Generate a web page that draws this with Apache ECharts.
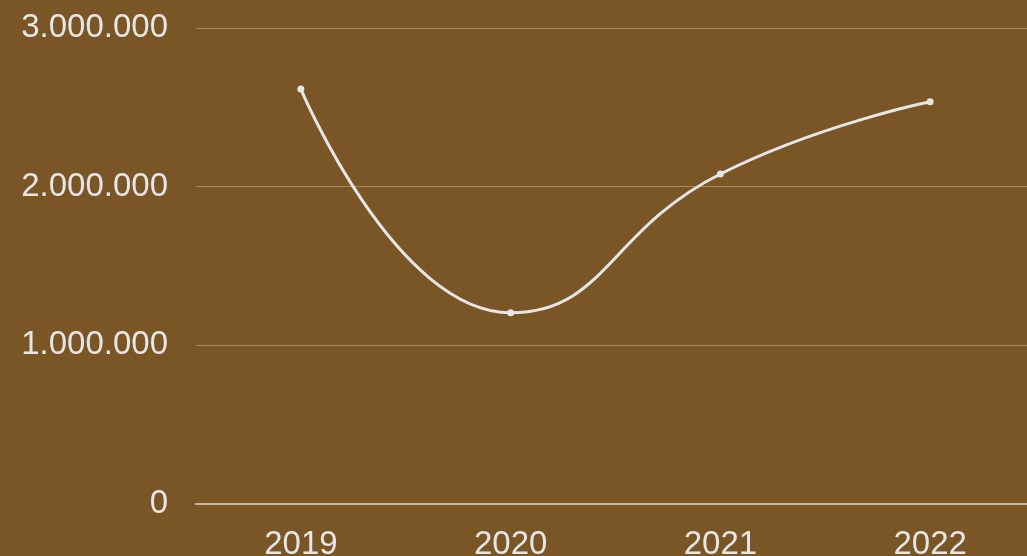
<!DOCTYPE html>
<html>
<head>
<meta charset="utf-8">
<script src="https://cdn.jsdelivr.net/npm/echarts@6/dist/echarts.min.js"></script>
<style>
  html, body { margin: 0; padding: 0; background: #7a5526; }
  #chart { width: 1027px; height: 556px; }
</style>
</head>
<body>
<div id="chart"></div>
<script>
// 年份与数值
const years = ['2019', '2020', '2021', '2022'];
const values = [2615000, 1205000, 2080000, 2535000];

// 千位用点分隔
function fmt(v) {
  return String(v).replace(/\B(?=(\d{3})+(?!\d))/g, '.');
}

const chart = echarts.init(document.getElementById('chart'));
chart.setOption({
  backgroundColor: '#7a5526',
  animation: false,
  grid: {
    left: 196,
    right: -8,
    top: 28,
    bottom: 52,
    containLabel: false,
    outerBoundsMode: 'none'
  },
  xAxis: {
    type: 'category',
    data: years,
    boundaryGap: true,
    axisLine: { lineStyle: { color: '#c9b89c', width: 2 } },
    axisTick: { show: false },
    axisLabel: {
      color: '#e6e6e6',
      fontSize: 33,
      fontFamily: 'Liberation Sans',
      margin: 24
    }
  },
  yAxis: {
    type: 'value',
    min: 0,
    max: 3000000,
    interval: 1000000,
    axisLine: { show: false },
    axisTick: { show: false },
    splitLine: { lineStyle: { color: '#a48a62', width: 1 } },
    axisLabel: {
      color: '#e6e6e6',
      fontSize: 33,
      fontFamily: 'Liberation Sans',
      margin: 28,
      formatter: fmt
    }
  },
  series: [{
    type: 'line',
    data: values,
    smooth: true,
    symbol: 'circle',
    symbolSize: 7,
    lineStyle: { color: '#e6e6e6', width: 3 },
    itemStyle: { color: '#e6e6e6' }
  }]
});
</script>
</body>
</html>
